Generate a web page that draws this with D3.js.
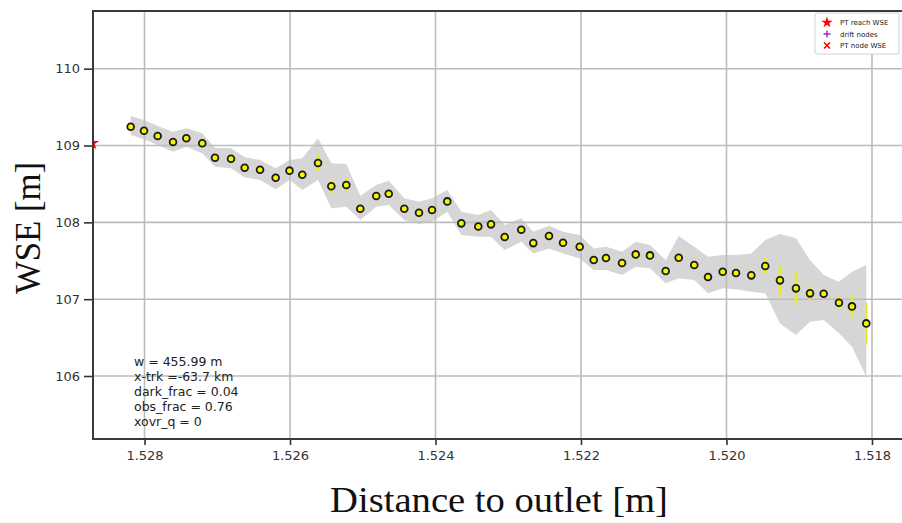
<!DOCTYPE html>
<html>
<head>
<meta charset="utf-8">
<script src="https://cdn.jsdelivr.net/npm/d3@7"></script>
<style>
  body { margin: 0; background: #fff; }
  .tick text { font-family: "DejaVu Sans", sans-serif; font-size: 13px; fill: #333; }
</style>
</head>
<body>
<svg class="chart"></svg>
<script>
// node data
const dist = [1.528190, 1.528007, 1.527819, 1.527608, 1.527425, 1.527206, 1.527031, 1.526811,
  1.526623, 1.526412, 1.526197, 1.526007, 1.525831, 1.525615, 1.525432, 1.525226,
  1.525034, 1.524814, 1.524643, 1.524429, 1.524227, 1.524048, 1.523838, 1.523645,
  1.523412, 1.523237, 1.523049, 1.522821, 1.522656, 1.522440, 1.522247, 1.522018,
  1.521825, 1.521656, 1.521436, 1.521248, 1.521052, 1.520836, 1.520657, 1.520443,
  1.520254, 1.520052, 1.519869, 1.519659, 1.519467, 1.519265, 1.519045, 1.518852,
  1.518664, 1.518454, 1.518275, 1.518078];
const wse = [109.245, 109.193, 109.124, 109.046, 109.094, 109.029, 108.841, 108.828,
  108.711, 108.685, 108.581, 108.673, 108.620, 108.772, 108.469, 108.486,
  108.177, 108.342, 108.372, 108.177, 108.125, 108.160, 108.273, 107.987,
  107.945, 107.974, 107.809, 107.904, 107.730, 107.822, 107.734, 107.682,
  107.509, 107.535, 107.470, 107.583, 107.570, 107.366, 107.539, 107.444,
  107.288, 107.357, 107.340, 107.310, 107.431, 107.245, 107.141, 107.076,
  107.070, 106.953, 106.906, 106.685];
const bandHi = [109.384, 109.332, 109.254, 109.180, 109.224, 109.159, 108.971, 108.964,
  108.846, 108.811, 108.703, 108.811, 108.833, 109.094, 108.768, 108.759,
  108.345, 108.486, 108.542, 108.313, 108.268, 108.313, 108.421, 108.138,
  108.095, 108.160, 107.965, 108.052, 107.878, 107.956, 107.878, 107.835,
  107.661, 107.682, 107.617, 107.747, 107.704, 107.509, 107.822, 107.682,
  107.552, 107.574, 107.574, 107.596, 107.770, 107.848, 107.792, 107.509,
  107.314, 107.227, 107.357, 107.444];
const bandLo = [109.137, 109.081, 109.007, 108.919, 108.984, 108.898, 108.724, 108.703,
  108.586, 108.551, 108.430, 108.551, 108.421, 108.551, 108.182, 108.203,
  108.030, 108.203, 108.225, 108.030, 107.978, 108.008, 108.138, 107.835,
  107.813, 107.813, 107.639, 107.747, 107.596, 107.661, 107.596, 107.531,
  107.379, 107.379, 107.314, 107.422, 107.401, 107.206, 107.271, 107.249,
  107.076, 107.141, 107.128, 107.096, 107.076, 106.685, 106.533, 106.706,
  106.728, 106.555, 106.380, 105.990];
const wseErr = [0.03, 0.03, 0.03, 0.03, 0.03, 0.03, 0.03, 0.03,
  0.03, 0.03, 0.03, 0.03, 0.03, 0.11, 0.09, 0.09,
  0.03, 0.03, 0.03, 0.03, 0.03, 0.03, 0.03, 0.03,
  0.03, 0.03, 0.03, 0.03, 0.03, 0.03, 0.03, 0.03,
  0.03, 0.03, 0.03, 0.03, 0.03, 0.03, 0.07, 0.04,
  0.03, 0.06, 0.03, 0.06, 0.10, 0.20, 0.21, 0.09,
  0.05, 0.09, 0.15, 0.27];
const reachDist = 1.52872;
const reachWse = 109.03;

const xTicks = [1.528, 1.526, 1.524, 1.522, 1.520, 1.518];
const yTicks = [106, 107, 108, 109, 110];
const infoLines = ["w = 455.99 m", "x-trk =-63.7 km", "dark_frac = 0.04", "obs_frac = 0.76", "xovr_q = 0"];
const legendLabels = ["PT reach WSE", "drift nodes", "PT node WSE"];

let margin = {top: 11, right: -2, bottom: 84, left: 93};
let widthChart = 902 - margin.left - margin.right;
let heightChart = 523 - margin.top - margin.bottom;

let svg = d3.select(".chart").attr("width", 902).attr("height", 523);
let chart = svg.append("g")
  .attr("transform", "translate(" + margin.left + "," + margin.top + ")");

let x = d3.scaleLinear().domain([1.528708, 1.51756]).range([0, widthChart]);
let y = d3.scaleLinear().domain([105.18, 110.751]).range([heightChart, 0]);

chart.append("clipPath").attr("id", "clip")
  .append("rect").attr("width", widthChart).attr("height", heightChart);

let plot = chart.append("g").attr("clip-path", "url(#clip)");

// uncertainty band
let idx = d3.range(dist.length);
let band = d3.area()
  .x(i => x(dist[i]))
  .y0(i => y(bandLo[i]))
  .y1(i => y(bandHi[i]));
plot.append("path").datum(idx)
  .attr("d", band)
  .attr("fill", "#d6d6d6");

// grid
plot.selectAll(".vgrid").data(xTicks).enter().append("line")
  .attr("x1", d => x(d)).attr("x2", d => x(d))
  .attr("y1", 0).attr("y2", heightChart)
  .attr("stroke", "#bcbcbc").attr("stroke-width", 1.6);
plot.selectAll(".hgrid").data(yTicks).enter().append("line")
  .attr("y1", d => y(d)).attr("y2", d => y(d))
  .attr("x1", 0).attr("x2", widthChart)
  .attr("stroke", "#bcbcbc").attr("stroke-width", 1.6);

// error bars
plot.selectAll(".err").data(idx).enter().append("line")
  .attr("x1", i => x(dist[i])).attr("x2", i => x(dist[i]))
  .attr("y1", i => y(wse[i] - wseErr[i])).attr("y2", i => y(wse[i] + wseErr[i]))
  .attr("stroke", "#eaea2a").attr("stroke-width", 2.5);

// node points
plot.selectAll(".dot").data(idx).enter().append("circle")
  .attr("cx", i => x(dist[i])).attr("cy", i => y(wse[i]))
  .attr("r", 3.4)
  .attr("fill", "#f4f400")
  .attr("stroke", "#1a1a1a").attr("stroke-width", 1.8);

// reach wse star
plot.append("path")
  .attr("d", d3.symbol().type(d3.symbolStar).size(60))
  .attr("transform", "translate(" + x(reachDist) + "," + y(reachWse) + ")")
  .attr("fill", "red");

// axes
let xAxis = d3.axisBottom(x).tickValues(xTicks).tickFormat(d3.format(".3f")).tickSize(6).tickPadding(6);
let yAxis = d3.axisLeft(y).tickValues(yTicks).tickFormat(d3.format("d")).tickSize(9).tickPadding(4);

let gx = chart.append("g").attr("transform", "translate(0," + heightChart + ")").call(xAxis);
let gy = chart.append("g").call(yAxis);
[gx, gy].forEach(g => {
  g.select(".domain").remove();
  g.selectAll(".tick line").attr("stroke", "#333").attr("stroke-width", 1.6);
});

// frame
chart.append("rect")
  .attr("width", widthChart).attr("height", heightChart)
  .attr("fill", "none").attr("stroke", "#3a3a3a").attr("stroke-width", 2);

// axis titles
svg.append("text").text("Distance to outlet [m]")
  .attr("x", 499).attr("y", 512)
  .attr("text-anchor", "middle")
  .attr("font-family", "'Liberation Serif', serif")
  .attr("font-size", 36)
  .attr("textLength", 338).attr("lengthAdjust", "spacingAndGlyphs")
  .attr("fill", "#111");

svg.append("text").text("WSE [m]")
  .attr("transform", "translate(40,228) rotate(-90)")
  .attr("text-anchor", "middle")
  .attr("font-family", "'Liberation Serif', serif")
  .attr("font-size", 35)
  .attr("textLength", 132).attr("lengthAdjust", "spacingAndGlyphs")
  .attr("fill", "#111");

// info text
chart.append("g").selectAll("text").data(infoLines).enter().append("text")
  .text(d => d)
  .attr("x", 134 - margin.left)
  .attr("y", (d, i) => 366 - margin.top + i * 15)
  .attr("font-family", "'DejaVu Sans', sans-serif")
  .attr("font-size", 12.5)
  .attr("fill", "#222");

// legend
let legend = svg.append("g").attr("transform", "translate(815,13)");
legend.append("rect")
  .attr("width", 84).attr("height", 41).attr("rx", 2)
  .attr("fill", "white").attr("stroke", "#d0d0d0").attr("stroke-width", 1);
let symbols = [d3.symbolStar, d3.symbolCross, d3.symbolTimes];
let symColors = ["red", "#b020d0", "red"];
legendLabels.forEach((lab, i) => {
  let row = legend.append("g").attr("transform", "translate(0," + (9.5 + i * 11.5) + ")");
  if (i === 1) {
    row.append("path").attr("d", "M-3.5,0H3.5M0,-3.5V3.5")
      .attr("transform", "translate(12,0)")
      .attr("stroke", symColors[i]).attr("stroke-width", 1.4).attr("fill", "none");
  } else if (i === 2) {
    row.append("path").attr("d", "M-3,-3L3,3M-3,3L3,-3")
      .attr("transform", "translate(12,0)")
      .attr("stroke", symColors[i]).attr("stroke-width", 1.6).attr("fill", "none");
  } else {
    row.append("path").attr("d", d3.symbol().type(symbols[i]).size(40))
      .attr("transform", "translate(12,0)")
      .attr("fill", symColors[i]);
  }
  row.append("text").text(lab)
    .attr("x", 25).attr("y", 2.5)
    .attr("font-family", "'DejaVu Sans', sans-serif")
    .attr("font-size", 7)
    .attr("fill", "#222");
});
</script>
</body>
</html>
